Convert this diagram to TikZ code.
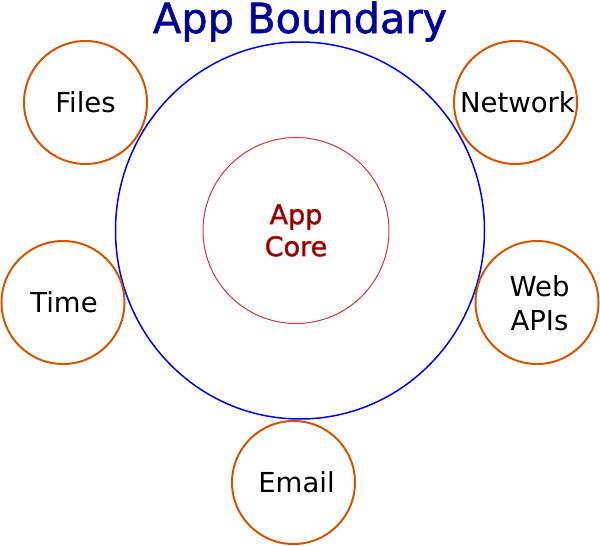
\documentclass[tikz,border=0pt]{standalone}
\usepackage{fontspec}
\setmainfont{DejaVu Sans}
\usetikzlibrary{shapes.geometric}
\definecolor{orng}{HTML}{D45500}
\definecolor{bnd}{HTML}{0000F0}
\definecolor{navy}{HTML}{000080}
\definecolor{corered}{HTML}{C8373B}
\definecolor{coretext}{HTML}{800000}
\newcommand{\outlinedtext}[2]{\special{pdf:code 2 Tr 0.55 w #1 RG}#2\special{pdf:code 0 Tr 0 0 0 RG}}
\tikzset{
  outerc/.style={circle, draw=orng, line width=2pt, minimum size=123pt, inner sep=0pt},
  lbl/.style={align=center, inner sep=0pt, font=\fontsize{27.5}{34}\selectfont, text=black},
  boundc/.style={ellipse, draw=bnd, line width=1.5pt, minimum width=369pt, minimum height=377pt, inner sep=0pt},
  corec/.style={circle, draw=corered, line width=1pt, minimum size=186pt, inner sep=0pt, align=center,
    font=\fontsize{27}{32}\selectfont, text=coretext},
  titlec/.style={font=\fontsize{41.5}{44}\selectfont, text=navy, inner sep=0pt, anchor=base}
}
\begin{document}
\begin{tikzpicture}[x=1pt,y=-1pt]
\useasboundingbox (0,0) rectangle (600,546);
\node[boundc] (boundary) at (300,230.5) {};
\node[corec] (core) at (296,230.5) {\outlinedtext{0.8 0.1 0.1}{App}\\\outlinedtext{0.8 0.1 0.1}{Core}};
\node[titlec] (title) at (300,33) {\outlinedtext{0 0 0.9}{App Boundary}};
\node[outerc] (files) at (85.5,102.5) {};
\node[outerc] (network) at (515.5,102.5) {};
\node[outerc] (time) at (63,302.5) {};
\node[outerc] (webapis) at (537,302.5) {};
\node[outerc] (email) at (293.5,482.5) {};
\node[lbl] (filestext) at (85.5,102.5) {Files};
\node[lbl] (networktext) at (517.5,102.5) {Network};
\node[lbl] (timetext) at (64,302.5) {Time};
\node[lbl] (webapistext) at (539.5,303.5) {Web\\APIs};
\node[lbl] (emailtext) at (296.5,482.5) {Email};
\end{tikzpicture}
\end{document}
